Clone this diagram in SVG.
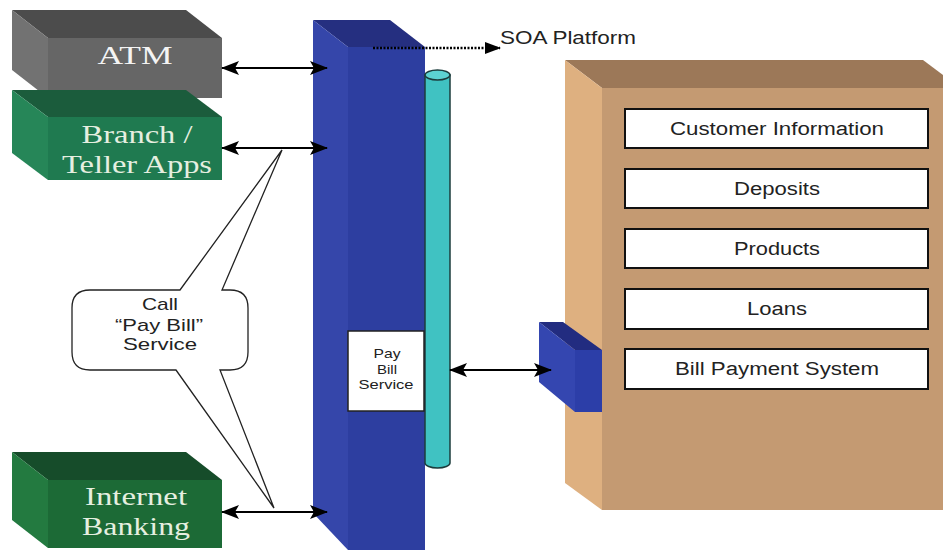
<svg xmlns="http://www.w3.org/2000/svg" width="943" height="550" viewBox="0 0 943 550">
<style>
.serif{font-family:"Liberation Serif","Times New Roman",serif;font-size:26px;text-anchor:middle}
.sans{font-family:"Liberation Sans",Arial,sans-serif;text-anchor:middle;fill:#222}
.ib{fill:#fff;stroke:#111;stroke-width:2}
.conn{stroke:#000;stroke-width:2.2;fill:none;marker-start:url(#ah);marker-end:url(#ah)}
</style>
<defs>
<marker id="ah" viewBox="0 0 18 14" refX="17" refY="7" markerWidth="18" markerHeight="14" markerUnits="userSpaceOnUse" orient="auto-start-reverse">
<path d="M0,0 L18,7 L0,14 L4,7 z" fill="#000"/>
</marker>
<marker id="ah1" viewBox="0 0 16 12" refX="15" refY="6" markerWidth="16" markerHeight="12" markerUnits="userSpaceOnUse" orient="auto">
<path d="M0,0 L16,6 L0,12 z" fill="#000"/>
</marker>
</defs>
<rect width="943" height="550" fill="#fff"/>

<g id="atm">
<polygon points="12,10 186,10 222,38 48,38" fill="#4c4c4c"/>
<polygon points="12,10 48,38 48,98 12,70" fill="#727272"/>
<rect x="48" y="38" width="174" height="60" fill="#666"/>
<text class="serif" x="135" y="64" fill="#f4f4f4" textLength="75" lengthAdjust="spacingAndGlyphs">ATM</text>
</g>

<g id="branch">
<polygon points="12,90 186,90 222,117 48,117" fill="#1b5c3c"/>
<polygon points="12,90 48,117 48,180 12,153" fill="#268658"/>
<rect x="48" y="117" width="174" height="63" fill="#1f7a50"/>
<text class="serif" x="137" y="143" fill="#e6efe0" textLength="111" lengthAdjust="spacingAndGlyphs">Branch /</text>
<text class="serif" x="137" y="173" fill="#e6efe0" textLength="150" lengthAdjust="spacingAndGlyphs">Teller Apps</text>
</g>

<g id="internet">
<polygon points="12,452 186,452 222,480 48,480" fill="#164c2a"/>
<polygon points="12,452 48,480 48,548 12,520" fill="#237a40"/>
<rect x="48" y="480" width="174" height="68" fill="#1c6a36"/>
<text class="serif" x="136" y="505" fill="#e6efe0" textLength="102" lengthAdjust="spacingAndGlyphs">Internet</text>
<text class="serif" x="136" y="535" fill="#e6efe0" textLength="108" lengthAdjust="spacingAndGlyphs">Banking</text>
</g>

<g id="soa-column">
<polygon points="313,20 390,20 425,47 348,47" fill="#252f80"/>
<polygon points="313,20 348,47 348,550 313,513" fill="#3546aa"/>
<rect x="348" y="47" width="77" height="503" fill="#2d3ea0"/>
</g>

<g id="bus">
<path d="M425,75 L425,463 A12.5,5 0 0 0 450,463 L450,75 Z" fill="#40c2c2" stroke="#1c3c3c" stroke-width="1.5"/>
<ellipse cx="437.5" cy="75" rx="12.5" ry="5" fill="#5cd2d2" stroke="#1c3c3c" stroke-width="1.5"/>
</g>

<g id="pay-bill-service">
<rect x="348" y="331" width="76" height="80" fill="#fff" stroke="#222" stroke-width="1.5"/>
<text class="sans" x="387" y="358" font-size="13" textLength="27" lengthAdjust="spacingAndGlyphs">Pay</text>
<text class="sans" x="387" y="374" font-size="13" textLength="20" lengthAdjust="spacingAndGlyphs">Bill</text>
<text class="sans" x="386" y="389" font-size="13" textLength="55" lengthAdjust="spacingAndGlyphs">Service</text>
</g>

<g id="backend">
<polygon points="565,60 923,60 943,75 943,88 602,88" fill="#9c7858"/>
<polygon points="565,60 602,88 602,510 565,483" fill="#deb080"/>
<rect x="602" y="88" width="341" height="422" fill="#c49a72"/>
</g>

<g id="adapter">
<polygon points="539,322 563,322 602,350 575,350" fill="#222c80"/>
<polygon points="539,322 575,350 575,412 539,382" fill="#3446b0"/>
<rect x="575" y="350" width="27" height="62" fill="#2c3ea8"/>
</g>

<g id="customer-information">
<rect class="ib" x="625" y="109" width="303" height="39"/>
<text class="sans" x="777" y="135" font-size="18" textLength="214" lengthAdjust="spacingAndGlyphs">Customer Information</text>
</g>
<g id="deposits">
<rect class="ib" x="625" y="169" width="303" height="39"/>
<text class="sans" x="777" y="195" font-size="18" textLength="86" lengthAdjust="spacingAndGlyphs">Deposits</text>
</g>
<g id="products">
<rect class="ib" x="625" y="229" width="303" height="39"/>
<text class="sans" x="777" y="255" font-size="18" textLength="86" lengthAdjust="spacingAndGlyphs">Products</text>
</g>
<g id="loans">
<rect class="ib" x="625" y="289" width="303" height="40"/>
<text class="sans" x="777" y="315" font-size="18" textLength="60" lengthAdjust="spacingAndGlyphs">Loans</text>
</g>
<g id="bill-payment-system">
<rect class="ib" x="625" y="349" width="303" height="40"/>
<text class="sans" x="777" y="375" font-size="18" textLength="204" lengthAdjust="spacingAndGlyphs">Bill Payment System</text>
</g>

<g id="callout">
<path d="M90,290 L180,290 L282,150 L222,290 L230,290 Q248,290 248,308 L248,352 Q248,370 230,370 L220,370 L274,508 L176,370 L90,370 Q72,370 72,352 L72,308 Q72,290 90,290 Z" fill="#fff" stroke="#222" stroke-width="1.3"/>
<text class="sans" x="160" y="310" font-size="17" textLength="36" lengthAdjust="spacingAndGlyphs">Call</text>
<text class="sans" x="159" y="331" font-size="17" textLength="88" lengthAdjust="spacingAndGlyphs">“Pay Bill”</text>
<text class="sans" x="160" y="350" font-size="17" textLength="74" lengthAdjust="spacingAndGlyphs">Service</text>
</g>

<g id="soa-label">
<text x="500" y="44" font-family="'Liberation Sans',Arial,sans-serif" font-size="17.5" fill="#222" textLength="136" lengthAdjust="spacingAndGlyphs">SOA Platform</text>
</g>

<g id="connectors">
<line class="conn" x1="222" y1="68" x2="327" y2="68"/>
<line class="conn" x1="222" y1="148" x2="327" y2="148"/>
<line class="conn" x1="222" y1="512" x2="327" y2="512"/>
<line class="conn" x1="450" y1="370" x2="551" y2="370"/>
<line x1="373" y1="48" x2="500" y2="48" stroke="#000" stroke-width="2.5" stroke-dasharray="2,1.5" marker-end="url(#ah1)"/>
</g>
</svg>
